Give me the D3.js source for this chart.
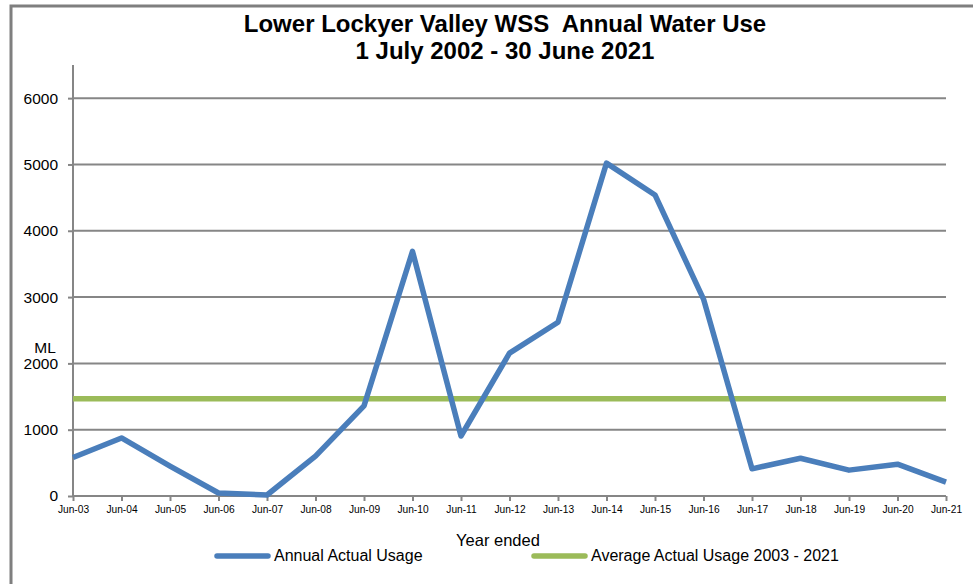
<!DOCTYPE html>
<html><head><meta charset="utf-8">
<script src="https://cdn.jsdelivr.net/npm/d3@7"></script>
<style>body{margin:0;background:#fff}svg{display:block;font-family:Arial,"Liberation Sans",sans-serif}</style>
</head><body><svg id="c" width="973" height="584"></svg>
<script>
const categories=["Jun-03","Jun-04","Jun-05","Jun-06","Jun-07","Jun-08","Jun-09","Jun-10","Jun-11","Jun-12","Jun-13","Jun-14","Jun-15","Jun-16","Jun-17","Jun-18","Jun-19","Jun-20","Jun-21"];
const actualUsage=[580,875,450,45,15,600,1360,3690,905,2155,2620,5020,4540,2970,410,570,390,480,210];
const averageUsage=[1465,1465,1465,1465,1465,1465,1465,1465,1465,1465,1465,1465,1465,1465,1465,1465,1465,1465,1465];
const yTicks=[0,1000,2000,3000,4000,5000,6000];
const titleLines=["Lower Lockyer Valley WSS  Annual Water Use","1 July 2002 - 30 June 2021"];
const seriesNames=["Annual Actual Usage","Average Actual Usage 2003 - 2021"];

const svg=d3.select("#c");
const L=73,R=946,T=65,B=496;
const x=d3.scalePoint().domain(categories).range([L,R]);
const y=d3.scaleLinear().domain([0,6500]).range([B,T]);
const grid="#868686";
const FF="Arial,'Liberation Sans',sans-serif";

svg.append("rect").attr("x",11).attr("y",6).attr("width",980).attr("height",600)
  .attr("fill","none").attr("stroke","#7f7f7f").attr("stroke-width",3);

svg.selectAll("text.title").data(titleLines).join("text").attr("class","title")
  .attr("x",505).attr("y",(d,i)=>32+i*27).attr("text-anchor","middle")
  .style("white-space","pre")
  .attr("font-size",24).attr("font-weight","bold").attr("fill","#000").text(d=>d);

// gridlines
svg.append("g").selectAll("line").data(yTicks.filter(d=>d>0)).join("line")
  .attr("x1",L).attr("x2",R).attr("y1",d=>y(d)).attr("y2",d=>y(d))
  .attr("stroke",grid).attr("stroke-width",2);

// y axis
const ya=svg.append("g").attr("transform",`translate(${L},0)`)
  .call(d3.axisLeft(y).tickValues(yTicks).tickSize(5).tickPadding(10).tickFormat(d3.format("d")));
ya.select(".domain").attr("stroke",grid).attr("stroke-width",2).attr("d",`M-0,${T}V${B}`);
ya.selectAll(".tick line").attr("stroke",grid).attr("stroke-width",2);
ya.selectAll("text").attr("font-size",15.5).attr("fill","#000").attr("font-family",FF);

// x axis
const xa=svg.append("g").attr("transform",`translate(0,${B})`)
  .call(d3.axisBottom(x).tickSize(5).tickPadding(5));
xa.select(".domain").attr("stroke",grid).attr("stroke-width",2).attr("d",`M${L},0H${R}`);
xa.selectAll(".tick line").attr("stroke",grid).attr("stroke-width",2);
xa.selectAll("text").attr("font-size",10.2).attr("fill","#000").attr("font-family",FF);

svg.append("text").attr("x",45).attr("y",353).attr("text-anchor","middle").attr("font-size",15.5).text("ML");
svg.append("text").attr("x",498).attr("y",546).attr("text-anchor","middle").attr("font-size",16.5).text("Year ended");

const line=d3.line().x((d,i)=>x(categories[i])).y(d=>y(d));
svg.append("path").datum(averageUsage).attr("d",line).attr("fill","none")
  .attr("stroke","#9bbb59").attr("stroke-width",5.5);
svg.append("path").datum(actualUsage).attr("d",line).attr("fill","none")
  .attr("stroke","#4a7ebb").attr("stroke-width",5.5).attr("stroke-linejoin","round");

// legend
const leg=[{n:seriesNames[0],c:"#4a7ebb",x:215},{n:seriesNames[1],c:"#9bbb59",x:532}];
const lg=svg.append("g");
leg.forEach(d=>{
  lg.append("line").attr("x1",d.x+2).attr("x2",d.x+53).attr("y1",556).attr("y2",556)
    .attr("stroke",d.c).attr("stroke-width",5.5).attr("stroke-linecap","round");
  lg.append("text").attr("x",d.x+59).attr("y",561).attr("font-size",16).text(d.n);
});
</script></body></html>
